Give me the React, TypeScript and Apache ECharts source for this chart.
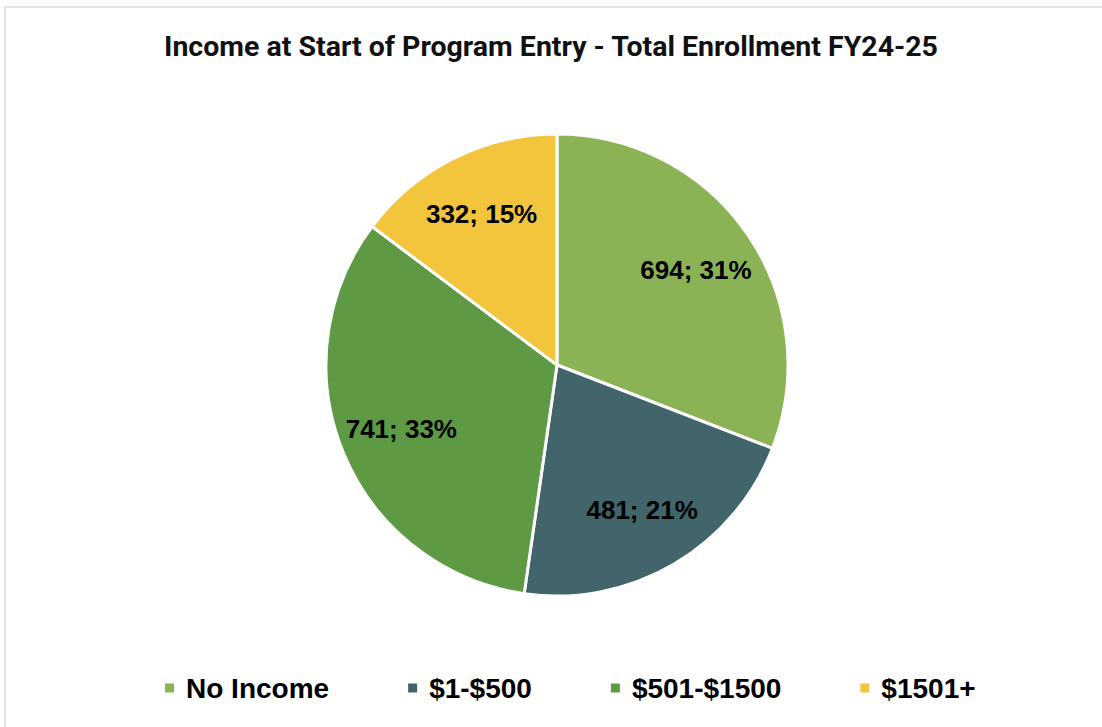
import React, { useEffect, useRef } from "react";
import * as echarts from "echarts";

const categories = ["No Income", "$1-$500", "$501-$1500", "$1501+"];
const values = [694, 481, 741, 332];
const colors = ["#8BB356", "#41656A", "#5D9A43", "#F2C53C"];
const titleText = "Income at Start of Program Entry - Total Enrollment FY24-25";

export default function App() {
  const ref = useRef<HTMLDivElement>(null);
  useEffect(() => {
    document.body.style.margin = "0";
    const chart = echarts.init(ref.current!, null, { renderer: "svg" });
    const total = values.reduce((a, b) => a + b, 0);
    const data = categories.map((name, i) => ({ name, value: values[i] }));
    chart.setOption({
      animation: false,
      backgroundColor: "#ffffff",
      color: colors,
      title: {
        text: titleText,
        left: "center",
        top: 27,
        textStyle: {
          fontFamily: "Roboto",
          fontWeight: "bold",
          fontSize: 28.5,
          color: "#111111",
        },
      },
      legend: {
        data: categories,
        bottom: 20,
        left: 158,
        itemWidth: 11,
        itemHeight: 11,
        itemGap: 77,
        icon: "rect",
        textStyle: {
          fontFamily: "Liberation Sans",
          fontWeight: "bold",
          fontSize: 28,
          color: "#000000",
          padding: [0, 0, 0, 6],
        },
      },
      graphic: [
        {
          type: "rect",
          shape: { x: 5, y: 7, width: 1200, height: 1000 },
          style: { fill: "none", stroke: "#e4e4e4", lineWidth: 2 },
          silent: true,
        },
      ],
      series: [
        {
          type: "pie",
          center: [557, 365],
          radius: [0, 231],
          startAngle: 90,
          clockwise: true,
          data,
          label: { show: false },
          labelLine: { show: false },
          itemStyle: { borderColor: "#ffffff", borderWidth: 3 },
          emphasis: { disabled: true },
        },
        {
          type: "pie",
          center: [557, 365],
          radius: [100, 231],
          startAngle: 90,
          clockwise: true,
          silent: true,
          data,
          itemStyle: { color: "rgba(0,0,0,0)" },
          label: {
            show: true,
            position: "inside",
            fontFamily: "Liberation Sans",
            fontWeight: "bold",
            fontSize: 26,
            color: "#000000",
            formatter: (p: any) =>
              `${p.value}; ${Math.round((p.value / total) * 100)}%`,
          },
          labelLine: { show: false },
          emphasis: { disabled: true },
        },
      ],
    });
    return () => chart.dispose();
  }, []);
  return <div ref={ref} style={{ width: 1102, height: 727 }} />;
}
